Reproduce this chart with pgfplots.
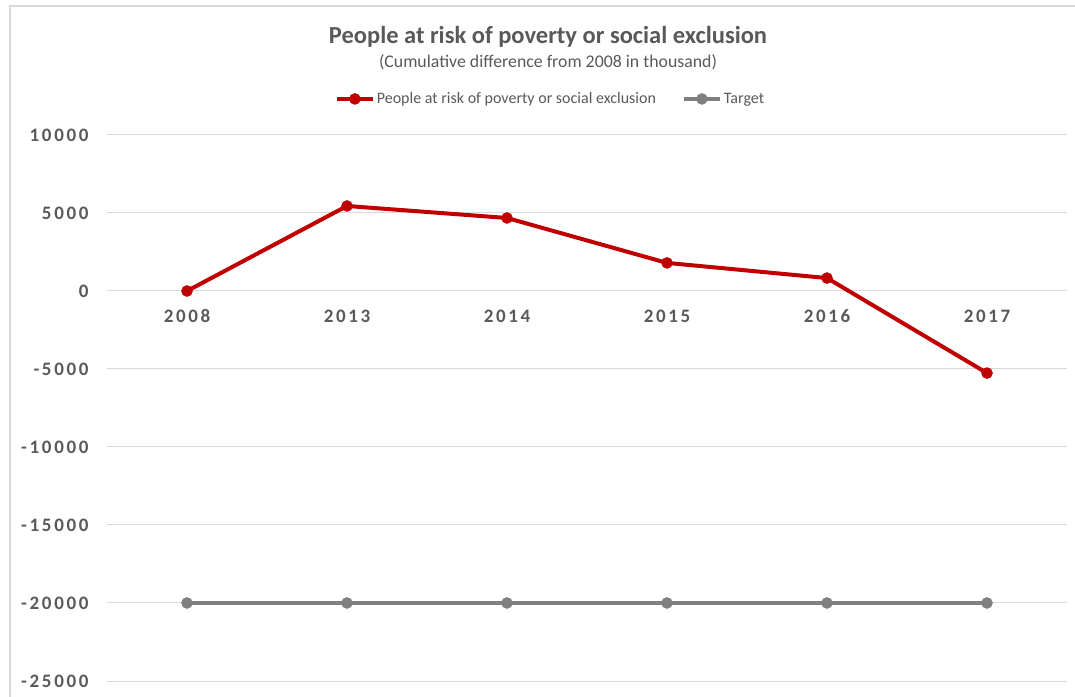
\documentclass[border=0pt]{standalone}
\usepackage{fontspec}
\setmainfont{Carlito}
\newfontfamily\tickfont[LetterSpace=14]{Carlito}
\usepackage{pgfplots}
\pgfplotsset{compat=1.18}
\definecolor{txtgray}{HTML}{595959}
\definecolor{gridgray}{HTML}{D9D9D9}
\definecolor{redline}{HTML}{C00000}
\definecolor{grayline}{HTML}{808080}
\begin{document}
\begin{tikzpicture}
\path[use as bounding box] (0,0) rectangle (1075bp,697bp);
\draw[gridgray, line width=1.5bp] (10bp,0) -- (10bp,691bp) -- (1075bp,691bp);
\node[text=txtgray, font=\fontsize{24.5bp}{28bp}\selectfont\bfseries] at (548bp,660bp) {People at risk of poverty or social exclusion};
\node[text=txtgray, font=\fontsize{17.8bp}{20bp}\selectfont] at (548bp,635bp) {(Cumulative difference from 2008 in thousand)};
\begin{axis}[
  at={(107bp,16bp)}, anchor=south west,
  scale only axis, width=960bp, height=546bp,
  xmin=-0.5, xmax=5.5, ymin=-25000, ymax=10000,
  axis x line=middle, axis y line=left,
  x axis line style={draw=none}, y axis line style={draw=none},
  major tick length=0,
  scaled y ticks=false,
  xtick={0,1,2,3,4,5},
  xticklabels={2008,2013,2014,2015,2016,2017},
  ytick={-25000,-20000,-15000,-10000,-5000,0,5000,10000},
  yticklabels={-25000,-20000,-15000,-10000,-5000,0,5000,10000},
  ymajorgrids, grid style={gridgray, line width=1bp},
  ticklabel style={text=txtgray, font=\fontsize{19bp}{21bp}\tickfont\bfseries},
  xticklabel style={anchor=base, yshift=-31.5bp},
  yticklabel style={anchor=east, xshift=-15bp},
  clip=false,
  legend columns=2,
  legend style={draw=none, fill=none, at={(0.462,1.066)}, anchor=center,
    font=\fontsize{16bp}{18bp}\selectfont, text=txtgray,
    nodes={inner sep=2bp},
    /tikz/every even column/.append style={column sep=24bp}},
  legend cell align=left,
  legend image code/.code={\draw[mark repeat=2,mark phase=2,#1] plot coordinates {(0bp,0bp) (18bp,0bp) (36bp,0bp)};},
]
\addplot[redline, line width=4bp, mark=*, mark size=5.5bp, mark options={fill=redline, draw=redline, line width=0.5bp}]
  coordinates {(0,0) (1,5450) (2,4680) (3,1800) (4,830) (5,-5260)};
\addlegendentry{People at risk of poverty or social exclusion}
\addplot[grayline, line width=4bp, mark=*, mark size=5.5bp, mark options={fill=grayline, draw=grayline, line width=0.5bp}]
  coordinates {(0,-20000) (1,-20000) (2,-20000) (3,-20000) (4,-20000) (5,-20000)};
\addlegendentry{Target}
\end{axis}
\end{tikzpicture}
\end{document}
